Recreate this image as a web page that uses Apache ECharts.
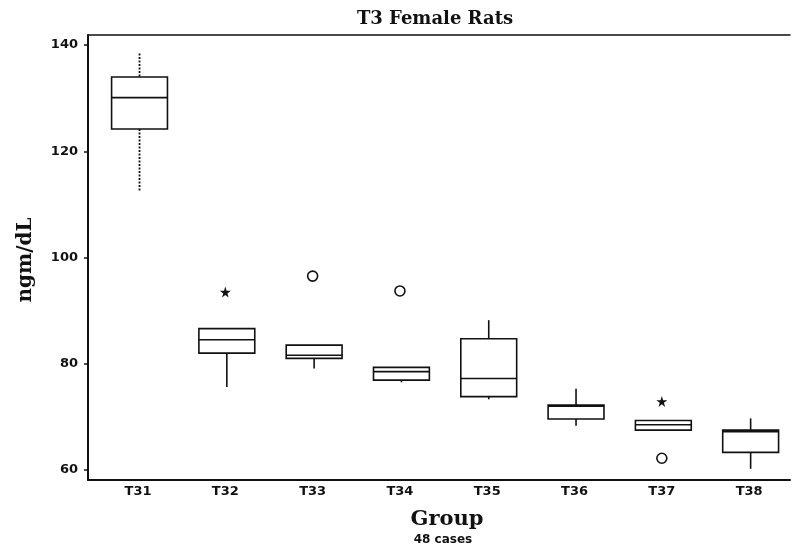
<!DOCTYPE html>
<html><head><meta charset="utf-8">
<script src="https://cdn.jsdelivr.net/npm/echarts@6/dist/echarts.min.js"></script>
<style>html,body{margin:0;padding:0;background:#fff}#c{width:792px;height:548px}</style>
</head><body><div id="c"></div>
<script>
const categories = ['T31', 'T32', 'T33', 'T34', 'T35', 'T36', 'T37', 'T38'];
const whiskerLow = [112.6, 75.6, 79.1, 76.5, 73.3, 68.3, 67.5, 60.2];
const q1 = [124.2, 82.0, 81.0, 76.9, 73.8, 69.6, 67.5, 63.3];
const median = [130.1, 84.5, 81.6, 78.5, 77.2, 72.0, 68.5, 67.2];
const q3 = [134.0, 86.6, 83.5, 79.3, 84.7, 72.2, 69.3, 67.5];
const whiskerHigh = [138.4, 86.6, 83.5, 79.3, 88.2, 75.3, 69.3, 69.7];
const starOutliers = [['T32', 93.5], ['T37', 72.9]];
const circleOutliers = [['T33', 96.5], ['T34', 93.7], ['T37', 62.2]];
const yTicks = [60, 80, 100, 120, 140];
const xTicks = [1, 2, 3, 4, 5, 6, 7, 8];

const boxData = categories.map((c, i) => [i + 1, whiskerLow[i], q1[i], median[i], q3[i], whiskerHigh[i]]);
const starData = starOutliers.map(o => [categories.indexOf(o[0]) + 1, o[1]]);
const circleData = circleOutliers.map(o => [categories.indexOf(o[0]) + 1, o[1]]);

function renderBox(params, api) {
  const x = api.value(0);
  const lo = api.coord([x, api.value(1)]);
  const b1 = api.coord([x, api.value(2)]);
  const md = api.coord([x, api.value(3)]);
  const b3 = api.coord([x, api.value(4)]);
  const hi = api.coord([x, api.value(5)]);
  const half = api.size([0.64, 0])[0] / 2;
  const cx = lo[0] + 1.5;
  const st = { stroke: '#111', lineWidth: 1.6, fill: null };
  const dash = params.dataIndex === 0 ? { stroke: '#111', lineWidth: 1.8, lineDash: [2, 1.5] } : st;
  const children = [
    { type: 'rect', shape: { x: cx - half, y: b3[1], width: 2 * half, height: b1[1] - b3[1] }, style: { stroke: '#111', fill: 'none', lineWidth: 1.6 } },
    { type: 'line', shape: { x1: cx - half, y1: md[1], x2: cx + half, y2: md[1] }, style: st }
  ];
  if (hi[1] < b3[1] - 0.5) children.push({ type: 'line', shape: { x1: cx, y1: hi[1], x2: cx, y2: b3[1] }, style: dash });
  if (lo[1] > b1[1] + 0.5) children.push({ type: 'line', shape: { x1: cx, y1: b1[1], x2: cx, y2: lo[1] }, style: dash });
  return { type: 'group', children };
}

const chart = echarts.init(document.getElementById('c'), null, { renderer: 'canvas' });
chart.setOption({
  animation: false,
  backgroundColor: '#fff',
  grid: { left: 88, right: 2, top: 35, bottom: 68, containLabel: false },
  xAxis: [{
    type: 'value', min: 0.427, max: 8.468,
    axisLine: { show: true, onZero: false, lineStyle: { color: '#111', width: 2 } },
    axisTick: { show: false },
    splitLine: { show: false },
    axisLabel: {
      customValues: xTicks, margin: 5, color: '#111',
      fontFamily: 'DejaVu Sans', fontWeight: 'bold', fontSize: 13,
      formatter: v => categories[Math.round(v) - 1] || ''
    }
  }, {
    type: 'value', position: 'top', min: 0.427, max: 8.468,
    axisLine: { show: true, onZero: false, lineStyle: { color: '#111', width: 1.5 } },
    axisTick: { show: false }, axisLabel: { show: false }, splitLine: { show: false }
  }],
  yAxis: {
    type: 'value', min: 58.1, max: 141.9,
    axisLine: { show: true, onZero: false, lineStyle: { color: '#111', width: 2 } },
    axisTick: { show: true, customValues: yTicks, length: 4, lineStyle: { color: '#111', width: 1.5 } },
    splitLine: { show: false },
    axisLabel: {
      customValues: yTicks, margin: 10, color: '#111',
      fontFamily: 'DejaVu Sans', fontWeight: 'bold', fontSize: 13
    }
  },
  series: [{
    type: 'custom',
    renderItem: renderBox,
    encode: { x: 0, y: [1, 2, 3, 4, 5] },
    data: boxData,
    silent: true
  }, {
    type: 'scatter',
    data: starData,
    symbol: 'path://M50,0 L61,35 L98,35 L68,57 L79,91 L50,70 L21,91 L32,57 L2,35 L39,35 Z',
    symbolSize: 11,
    itemStyle: { color: '#111', opacity: 1 },
    silent: true
  }, {
    type: 'scatter',
    data: circleData,
    symbol: 'circle',
    symbolSize: 10,
    itemStyle: { color: '#fff', borderColor: '#111', borderWidth: 1.6, opacity: 1 },
    silent: true
  }],
  graphic: [
    { type: 'text', x: 435, y: 19, style: { text: 'T3 Female Rats', font: 'bold 18px "DejaVu Serif"', fill: '#111', align: 'center', verticalAlign: 'middle' } },
    { type: 'text', x: 26, y: 260, rotation: Math.PI / 2, style: { text: 'ngm/dL', font: 'bold 20px "DejaVu Serif"', fill: '#111', align: 'center', verticalAlign: 'middle' } },
    { type: 'text', x: 447, y: 520, style: { text: 'Group', font: 'bold 21px "DejaVu Serif"', fill: '#111', align: 'center', verticalAlign: 'middle' } },
    { type: 'text', x: 443, y: 540, style: { text: '48 cases', font: 'bold 12px "DejaVu Sans"', fill: '#111', align: 'center', verticalAlign: 'middle' } }
  ]
});
</script>
</body></html>
